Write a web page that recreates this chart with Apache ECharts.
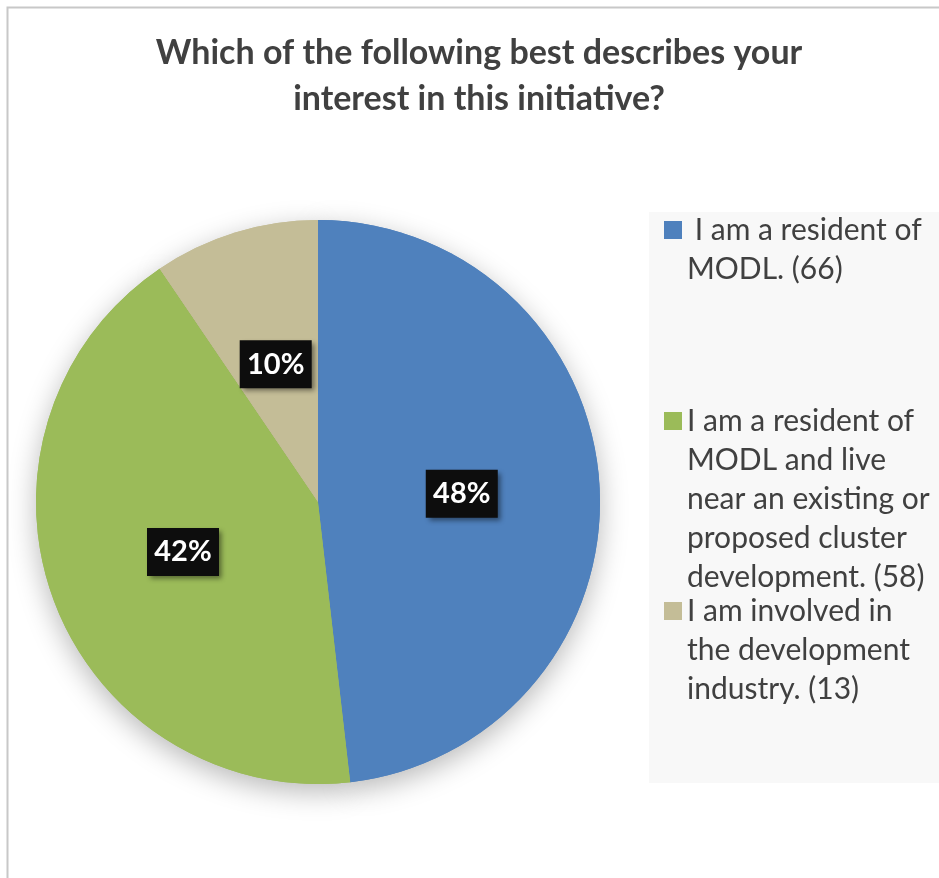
<!DOCTYPE html>
<html>
<head>
<meta charset="utf-8">
<script src="https://cdn.jsdelivr.net/npm/echarts@6/dist/echarts.min.js"></script>
<style>
  html, body { margin: 0; padding: 0; background: #ffffff; }
  #chart { width: 939px; height: 878px; }
</style>
</head>
<body>
<div id="chart"></div>
<script>
// Survey answers and their counts
const categories = [
  'I am a resident of MODL. (66)',
  'I am a resident of MODL and live near an existing or proposed cluster development. (58)',
  'I am involved in the development industry. (13)'
];
const counts = [66, 58, 13];
const colors = ['#4f81bd', '#9bbb59', '#c4bd97'];
// Wrapped legend text, one entry per category
const legendLines = [
  [' I am a resident of', 'MODL. (66)'],
  ['I am a resident of', 'MODL and live', 'near an existing or', 'proposed cluster', 'development. (58)'],
  ['I am involved in', 'the development', 'industry. (13)']
];
const legendIconY = [230, 421, 611];

const FONT = 'Lato, "Open Sans", sans-serif';
const LH = 39;

const chart = echarts.init(document.getElementById('chart'), null, { renderer: 'canvas' });

const pieData = categories.map((name, i) => ({
  name, value: counts[i], itemStyle: { color: colors[i] }
}));

// One legend block per item so each can sit at its own height.
// The legend centres its text on the icon, so blank lines are put
// in front of the text to bring its first line level with the icon.
const legends = categories.map((name, i) => {
  const n = legendLines[i].length;
  const lines = new Array(n - 1).fill('').concat(legendLines[i]);
  const blockHalf = (2 * n - 1) * LH / 2;
  return {
    data: [name],
    orient: 'vertical',
    left: 664,
    top: legendIconY[i] - blockHalf,
    padding: 0,
    itemWidth: 18,
    itemHeight: 18,
    icon: 'rect',
    selectedMode: false,
    formatter: () => lines.join('\n'),
    textStyle: {
      fontFamily: FONT,
      fontSize: 30,
      color: '#404040',
      lineHeight: LH
    }
  };
});

chart.setOption({
  animation: false,
  color: colors,
  title: {
    text: 'Which of the following best describes your\ninterest in this initiative?',
    left: 479,
    top: 30,
    padding: 0,
    textAlign: 'center',
    textStyle: {
      fontFamily: FONT,
      fontWeight: 'bold',
      fontSize: 34,
      lineHeight: 46,
      color: '#404040'
    }
  },
  graphic: [
    { type: 'rect', z: -10, shape: { x: 7.5, y: 7.5, width: 960, height: 900 },
      style: { fill: '#ffffff', stroke: '#c8c8c8', lineWidth: 2 } },
    { type: 'rect', z: -5, shape: { x: 649, y: 212, width: 300, height: 571 },
      style: { fill: '#f8f8f8' } }
  ],
  legend: legends,
  series: [
    {
      // soft drop shadow underneath the pie
      type: 'pie',
      silent: true,
      legendHoverLink: false,
      center: [318, 502],
      radius: 282,
      startAngle: 90,
      clockwise: true,
      z: 1,
      label: { show: false },
      labelLine: { show: false },
      itemStyle: {
        shadowBlur: 28,
        shadowOffsetY: 8,
        shadowColor: 'rgba(0,0,0,0.28)'
      },
      data: pieData
    },
    {
      type: 'pie',
      center: [318, 502],
      radius: 282,
      startAngle: 90,
      clockwise: true,
      percentPrecision: 0,
      z: 2,
      itemStyle: { borderWidth: 0 },
      label: {
        show: true,
        position: 'inside',
        formatter: '{d}%',
        fontFamily: FONT,
        fontWeight: 'bold',
        fontSize: 29,
        color: '#ffffff',
        backgroundColor: '#0d0d0d',
        width: 60,
        height: 32,
        lineHeight: 32,
        overflow: 'none',
        align: 'center',
        verticalAlign: 'middle',
        padding: [8, 6],
        shadowColor: 'rgba(0,0,0,0.45)',
        shadowBlur: 5,
        shadowOffsetX: 3,
        shadowOffsetY: 3
      },
      labelLine: { show: false },
      emphasis: { disabled: true },
      data: pieData
    }
  ]
});
</script>
</body>
</html>
